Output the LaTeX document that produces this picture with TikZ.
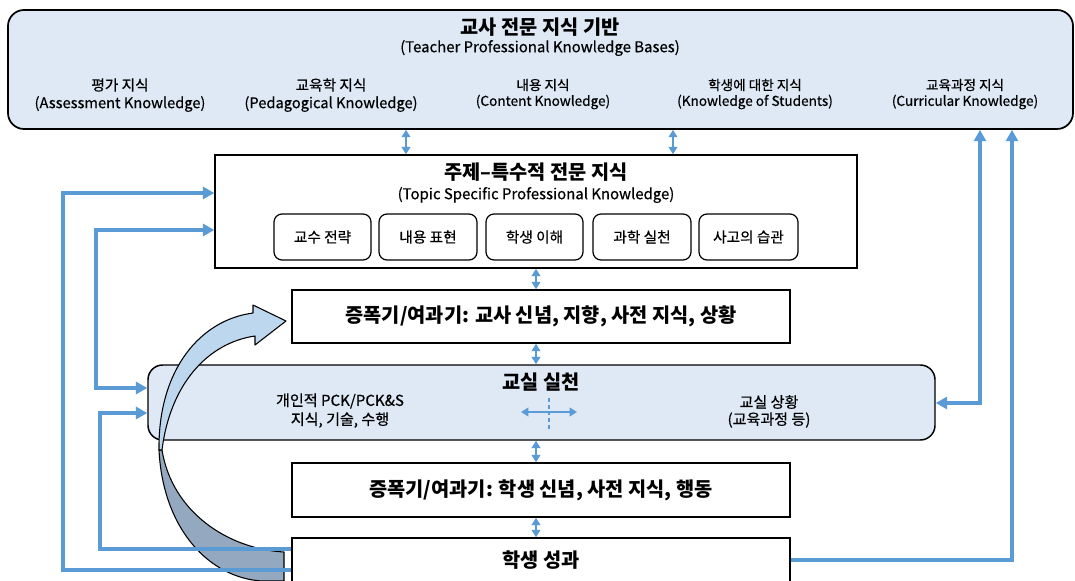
\documentclass[tikz,border=0pt]{standalone}
\usepackage{fontspec}
\setmainfont{Noto Sans CJK KR}
\newfontfamily\medfont{Noto Sans CJK KR}[FakeBold=0.5]
\usetikzlibrary{arrows.meta,fit}
\definecolor{lb}{HTML}{DEE9F5}
\definecolor{ln}{HTML}{5B9BD5}
\definecolor{arrowup}{HTML}{BDD7EE}
\definecolor{arrowdn}{HTML}{94A8BF}
\begin{document}
\begin{tikzpicture}[x=0.75pt,y=-0.75pt,
  box/.style={draw=black,line width=1.1pt,inner sep=0pt,rectangle},
  rbox/.style={box,rounded corners=11pt,fill=lb},
  sbox/.style={box,line width=0.9pt,rounded corners=6pt},
  ttl/.style={font=\fontsize{14.8}{17}\selectfont\bfseries},
  amp/.style={font=\fontsize{14.8}{17}\selectfont\bfseries},
  sub/.style={font=\fontsize{11.2}{13}\medfont},
  itm/.style={font=\fontsize{11}{13}\medfont},
  itms/.style={font=\fontsize{10.2}{12}\medfont},
  bl/.style={draw=ln,line width=2.7pt,-{Triangle[length=8.5pt,width=9pt]}},
  blb/.style={draw=ln,line width=2.7pt,{Triangle[length=8.5pt,width=9pt]}-{Triangle[length=8.5pt,width=9pt]}},
  dbl/.style={draw=ln,line width=1.3pt,{Triangle[length=5.5pt,width=6.5pt]}-{Triangle[length=5.5pt,width=6.5pt]}},
  arrowpart/.style={draw=black,line width=0.8pt,line join=round}]
\useasboundingbox (0,0) rectangle (1075,581);
\fill[white] (0,0) rectangle (1075,581);

% boxes
\node[rbox,rounded corners=12pt,line width=1.3pt,fit={(8,10) (1073,129)}] (top) {};
\node[box,fit={(215,155) (857,268)}] (tspk) {};
\node[box,fit={(292,290) (790,343)}] (amp1) {};
\node[rbox,fit={(148,365) (935,440)}] (cls) {};
\node[box,fit={(292,463) (790,517)}] (amp2) {};
\node[box,fit={(292,538) (790,600)}] (out) {};

% top texts
\node[ttl] (ttop) at (540,27) {교사 전문 지식 기반};
\node[sub] (stop) at (540,48) {(Teacher Professional Knowledge Bases)};
\node[itm] (k1a) at (120,85) {평가 지식};
\node[itm] (k1b) at (120,104) {(Assessment Knowledge)};
\node[itm] (k2a) at (331,85) {교육학 지식};
\node[itm] (k2b) at (331,104) {(Pedagogical Knowledge)};
\node[itms] (k3a) at (543,85) {내용 지식};
\node[itms] (k3b) at (543,102) {(Content Knowledge)};
\node[itms] (k4a) at (755,85) {학생에 대한 지식};
\node[itms] (k4b) at (755,102) {(Knowledge of Students)};
\node[itms] (k5a) at (965,85) {교육과정 지식};
\node[itms] (k5b) at (965,102) {(Curricular Knowledge)};

% TSPK texts
\node[ttl] (ttspk) at (536,172) {주제–특수적 전문 지식};
\node[sub] (stspk) at (536,195) {(Topic Specific Professional Knowledge)};
\node[sbox,fit={(274,214) (371,260)}] (s1) {};
\node[sbox,fit={(379,214) (477,260)}] (s2) {};
\node[sbox,fit={(486,214) (583,260)}] (s3) {};
\node[sbox,fit={(593,214) (691,260)}] (s4) {};
\node[sbox,fit={(699,214) (798,260)}] (s5) {};
\node[itm] (s1t) at (s1) {교수 전략};
\node[itm] (s2t) at (s2) {내용 표현};
\node[itm] (s3t) at (s3) {학생 이해};
\node[itm] (s4t) at (s4) {과학 실천};
\node[itm] (s5t) at (s5) {사고의 습관};

% amplifiers
\node[amp] (amp1t) at (541,316) {증폭기/여과기: 교사 신념, 지향, 사전 지식, 상황};
\node[amp] (amp2t) at (541,490) {증폭기/여과기: 학생 신념, 사전 지식, 행동};
\node[ttl] (outt) at (541,560) {학생 성과};

% classroom
\node[ttl] (clst) at (541,382) {교실 실천};
\node[itm,font=\fontsize{11.3}{13}\medfont] (cl1) at (340,401) {개인적 PCK/PCK\&S};
\node[itm,font=\fontsize{11.3}{13}\medfont] (cl2) at (340,420) {지식, 기술, 수행};
\node[itm,font=\fontsize{11.3}{13}\medfont] (cr1) at (769,402) {교실 상황};
\node[itm,font=\fontsize{11.3}{13}\medfont] (cr2) at (769,420) {(교육과정 등)};
\coordinate (hx1) at (521,412);
\coordinate (hx2) at (577,412);
\coordinate (vx1) at (549,398);
\coordinate (vx2) at (549,430);
\draw[dbl,line width=1.2pt] (hx1) -- (hx2);
\draw[draw=ln,line width=1.2pt,dash pattern=on 3pt off 2pt] (vx1) -- (vx2);

% curved block arrow
\draw[arrowpart,fill=arrowdn] (159,450) .. controls (163,530) and (210,578) .. (262,581) -- (284,581) -- (284,552) .. controls (228,549) and (172,512) .. (162,450) -- cycle;
\draw[arrowpart,fill=arrowup] (159,450) .. controls (158,370) and (200,320) .. (253,313) -- (253,305) -- (286,321) -- (255,345) -- (255,336) .. controls (207,343) and (170,385) .. (162,450) -- cycle;

% small double arrows
\coordinate (d1) at (406,0);
\coordinate (d2) at (673,0);
\coordinate (dc) at (536,0);
\draw[dbl] (top.south -| d1) -- (tspk.north -| d1);
\draw[dbl] (top.south -| d2) -- (tspk.north -| d2);
\draw[dbl] (tspk.south -| dc) -- (amp1.north -| dc);
\draw[dbl] (amp1.south -| dc) -- (cls.north -| dc);
\draw[dbl] (cls.south -| dc) -- (amp2.north -| dc);
\draw[dbl] (amp2.south -| dc) -- (out.north -| dc);

% blue feedback lines
\coordinate (L1b) at (63,570);
\coordinate (L1t) at (63,193);
\draw[bl] (L1b -| out.west) -- (L1b) -- (L1t) -- (L1t -| tspk.west);
\coordinate (L2t) at (96,230);
\coordinate (L2b) at (96,388);
\draw[blb] (L2t -| tspk.west) -- (L2t) -- (L2b) -- (L2b -| cls.west);
\coordinate (L3b) at (100,549);
\coordinate (L3t) at (100,413);
\draw[bl] (L3b -| out.west) -- (L3b) -- (L3t) -- (L3t -| cls.west);
\coordinate (R1t) at (980,0);
\coordinate (R1b) at (980,403);
\draw[blb] (top.south -| R1t) -- (R1b) -- (R1b -| cls.east);
\coordinate (R2t) at (1012,0);
\coordinate (R2b) at (1012,560);
\draw[bl] (R2b -| out.east) -- (R2b) -- (top.south -| R2t);
\end{tikzpicture}
\end{document}
